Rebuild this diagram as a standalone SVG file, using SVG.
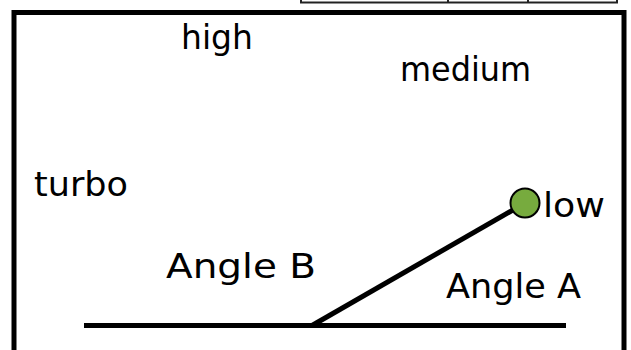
<svg xmlns="http://www.w3.org/2000/svg" width="631" height="350" viewBox="0 0 631 350">
<style>
.lbl{font-family:"DejaVu Sans",sans-serif;font-size:34px;fill:#000}
.ln{stroke:#000;stroke-width:5;fill:none}
</style>
<rect width="631" height="350" fill="#fff"/>
<g id="table">
<rect x="301" y="-20" width="316" height="22.5" fill="#fff" stroke="#222" stroke-width="2"/>
<line x1="448" y1="-20" x2="448" y2="2.5" stroke="#222" stroke-width="2"/>
<line x1="528" y1="-20" x2="528" y2="2.5" stroke="#222" stroke-width="2"/>
</g>
<g id="frame">
<rect x="14" y="12.5" width="610" height="360" class="ln"/>
</g>
<g id="connectors">
<line x1="84" y1="325.5" x2="566" y2="325.5" class="ln"/>
<line x1="312" y1="325.5" x2="525" y2="203" class="ln"/>
</g>
<g id="node-low">
<circle cx="525" cy="203" r="14.5" fill="#77ab3e" stroke="#000" stroke-width="2"/>
<text x="543" y="217" class="lbl" textLength="62" lengthAdjust="spacingAndGlyphs">low</text>
</g>
<g id="label-high"><text x="181" y="49" class="lbl" textLength="72" lengthAdjust="spacingAndGlyphs">high</text></g>
<g id="label-medium"><text x="400" y="81" class="lbl" textLength="131" lengthAdjust="spacingAndGlyphs">medium</text></g>
<g id="label-turbo"><text x="34" y="196" class="lbl" textLength="94" lengthAdjust="spacingAndGlyphs">turbo</text></g>
<g id="label-angle-b"><text x="166" y="278" class="lbl" textLength="150" lengthAdjust="spacingAndGlyphs">Angle B</text></g>
<g id="label-angle-a"><text x="446" y="298" class="lbl" textLength="135" lengthAdjust="spacingAndGlyphs">Angle A</text></g>
</svg>
